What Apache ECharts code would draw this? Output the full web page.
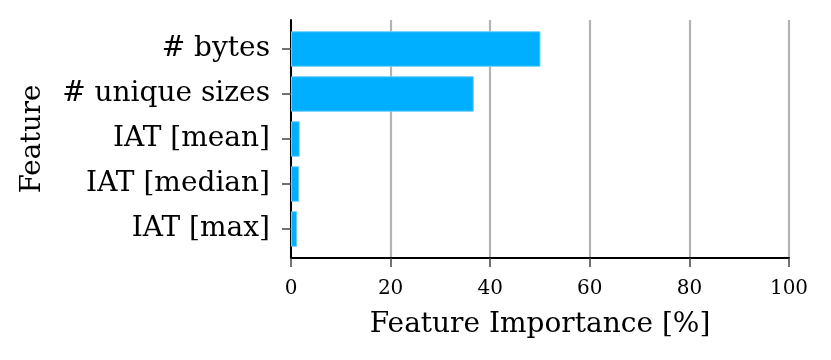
<!DOCTYPE html>
<html>
<head>
<meta charset="utf-8">
<script src="https://cdn.jsdelivr.net/npm/echarts@6/dist/echarts.min.js"></script>
<style>
  html, body { margin: 0; padding: 0; background: #fff; }
  #chart { width: 831px; height: 360px; }
</style>
</head>
<body>
<div id="chart"></div>
<script>
// 数据
var features = ['IAT [max]', 'IAT [median]', 'IAT [mean]', '# unique sizes', '# bytes'];
var importance = [1.25, 1.65, 1.75, 36.7, 50.1];
var xTicks = [0, 20, 40, 60, 80, 100];

var font = 'DejaVu Serif';
var chart = echarts.init(document.getElementById('chart'));

var option = {
    backgroundColor: '#fff',
    animation: false,
    grid: [
        // 外框 + 网格线
        { left: 291, right: 42, top: 20, bottom: 102 },
        // 条形
        { left: 291, right: 42, top: 26.5, height: 225 }
    ],
    xAxis: [
        {
            gridIndex: 0,
            type: 'value',
            min: xTicks[0],
            max: xTicks[xTicks.length - 1],
            interval: 20,
            name: 'Feature Importance [%]',
            nameLocation: 'middle',
            nameGap: 53,
            nameTextStyle: { fontFamily: font, fontSize: 28, color: '#000' },
            axisLine: { show: true, lineStyle: { color: '#000', width: 2 } },
            axisTick: { show: true, length: 9, lineStyle: { color: '#444', width: 1.5 } },
            axisLabel: { fontFamily: font, fontSize: 20, color: '#000', margin: 21 },
            splitLine: { show: true, lineStyle: { color: '#b3b3b3', width: 2.2 } }
        },
        {
            gridIndex: 1,
            type: 'value',
            min: 0,
            max: 100,
            show: false
        }
    ],
    yAxis: [
        {
            gridIndex: 0,
            type: 'value',
            min: 0,
            max: 1,
            name: 'Feature',
            nameLocation: 'middle',
            nameGap: 244,
            nameRotate: 90,
            nameTextStyle: { fontFamily: font, fontSize: 27.5, color: '#000' },
            axisLine: { show: true, lineStyle: { color: '#000', width: 2 } },
            axisTick: { show: false },
            axisLabel: { show: false },
            splitLine: { show: false }
        },
        {
            gridIndex: 1,
            type: 'category',
            data: features,
            axisLine: { show: false },
            axisTick: { show: true, alignWithLabel: true, length: 9, lineStyle: { color: '#444', width: 1.5 } },
            axisLabel: { fontFamily: font, fontSize: 28, color: '#000', margin: 21, padding: [5, 0, 0, 0] },
            splitLine: { show: false }
        }
    ],
    series: [
        {
            type: 'bar',
            xAxisIndex: 1,
            yAxisIndex: 1,
            data: importance,
            barWidth: '79%',
            itemStyle: { color: '#00afff', borderColor: '#6fd0ff', borderWidth: 1 }
        }
    ]
};

chart.setOption(option);
</script>
</body>
</html>
